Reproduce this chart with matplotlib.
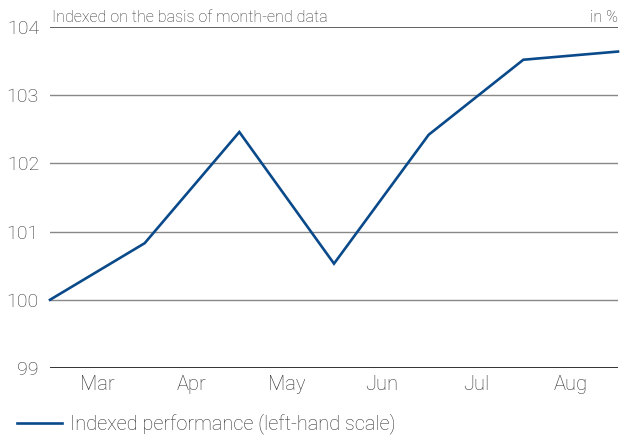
import matplotlib
matplotlib.use("Agg")
import matplotlib.pyplot as plt
from matplotlib.lines import Line2D

months = ["Mar", "Apr", "May", "Jun", "Jul", "Aug"]
values = [100.0, 100.83, 102.46, 100.53, 102.42, 103.52, 103.64]
yticks = [99, 100, 101, 102, 103, 104]

plt.rcParams['font.family'] = ['Roboto', 'DejaVu Sans']
txt = '#333333'
blue = '#0a4a8a'

W, H = 627, 437
fig = plt.figure(figsize=(W/100, H/100), dpi=100)
ax = fig.add_axes([50/W, 1-368/H, 568/W, 341/H])

x = list(range(len(values)))
ax.plot(x, values, color=blue, lw=1.9, solid_joinstyle='miter', zorder=3, clip_on=False)
ax.set_xlim(0, len(values)-1)
ax.set_ylim(99, 104)

for t in yticks:
    if t in (99,):
        c, lw = '#222222', 1.3
    elif t == 104:
        c, lw = '#555555', 1.3
    else:
        c, lw = '#888888', 1.0
    ax.axhline(t, color=c, lw=lw, zorder=1)

for s in ax.spines.values():
    s.set_visible(False)
ax.set_yticks(yticks)
ax.set_yticklabels([str(t) for t in yticks], fontsize=14, color=txt, fontweight='light')
ax.tick_params(axis='y', length=0, pad=8)
ax.set_xticks([i + 0.5 for i in range(len(months))])
ax.set_xticklabels(months, fontsize=14.5, color=txt, fontweight='light')
ax.tick_params(axis='x', length=0, pad=5)

fig.text(52/W, 1-17/H, "Indexed on the basis of month-end data", fontsize=11.5, color=txt,
         ha='left', va='center', fontweight='light')
fig.text(618/W, 1-17/H, "in %", fontsize=11.5, color=txt, ha='right', va='center', fontweight='light')

fig.add_artist(Line2D([17/W, 62/W], [1-423/H, 1-423/H], color=blue, lw=1.9))
fig.text(70/W, 1-424/H, "Indexed performance (left-hand scale)", fontsize=14.4, color=txt,
         ha='left', va='center', fontweight='light')

fig.savefig("out.png", dpi=100)
